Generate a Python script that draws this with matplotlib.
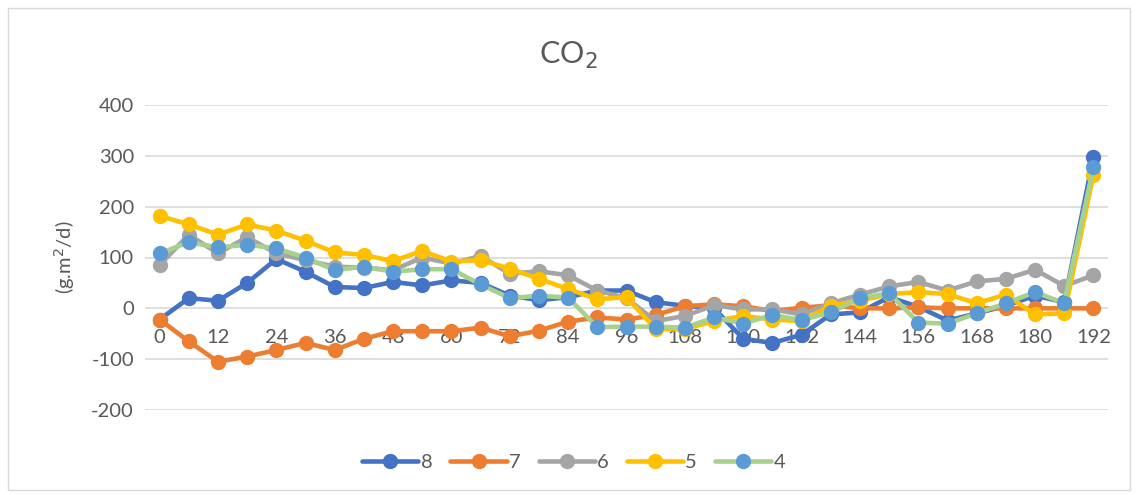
import matplotlib.pyplot as plt
from matplotlib.patches import Rectangle
from matplotlib.lines import Line2D

hours = list(range(0, 193, 6))

s8 = [-22, 20, 15, 50, 97, 72, 42, 40, 52, 45, 55, 50, 25, 16, 22, 35, 35, 12, 5, 0,
      -60, -68, -52, -12, -8, 22, 3, -24, -10, 5, 25, 12, 297]
s7 = [-22, -65, -105, -95, -82, -68, -82, -60, -45, -45, -45, -38, -55, -44, -26, -18, -22, -13, 4, 8,
      4, -5, 1, 6, 0, 0, 2, 0, 0, 0, 0, 0, 0]
s6 = [85, 145, 108, 140, 108, 95, 82, 80, 75, 100, 88, 103, 68, 73, 65, 35, 20, -25, -15, 6,
      -2, -2, -12, 10, 27, 43, 52, 35, 53, 58, 76, 44, 65]
s5 = [182, 165, 145, 165, 153, 133, 110, 105, 93, 113, 92, 95, 78, 58, 38, 18, 22, -41, -41, -25,
      -15, -22, -25, 5, 15, 28, 32, 28, 10, 27, -12, -10, 262]
s4 = [108, 130, 120, 125, 118, 100, 75, 82, 72, 77, 77, 47, 20, 25, 21, -37, -36, -36, -38, -18,
      -30, -13, -23, -8, 20, 30, -28, -30, -10, 10, 32, 10, 278]

series = [("8", s8, "#4472C4", "#4472C4"),
          ("7", s7, "#ED7D31", "#ED7D31"),
          ("6", s6, "#A5A5A5", "#A5A5A5"),
          ("5", s5, "#FFC000", "#FFC000"),
          ("4", s4, "#A9D18E", "#5B9BD5")]

plt.rcParams['font.family'] = ['Lato', 'DejaVu Sans']
plt.rcParams['axes.unicode_minus'] = False
txt = "#595959"

fig = plt.figure(figsize=(11.36, 4.95), dpi=100)
fig.patches.append(Rectangle((8 / 1136, 5 / 495), 1122 / 1136, 482 / 495, transform=fig.transFigure,
                             fill=False, edgecolor="#D9D9D9", linewidth=1))
ax = fig.add_axes([145 / 1136, 1 - 410 / 495, 963 / 1136, 305 / 495])

handles = []
for name, vals, lc, mc in series:
    ax.plot(hours, vals, color=lc, linewidth=3.3, marker="o", markersize=10,
            markerfacecolor=mc, markeredgecolor=mc, solid_capstyle="round", zorder=3)
    handles.append(Line2D([], [], color=lc, linewidth=3.3, marker="o", markersize=10,
                          markerfacecolor=mc, markeredgecolor=mc, solid_capstyle="round"))

ax.set_xlim(-3, 195)
ax.set_ylim(-200, 400)
ax.set_yticks(range(-200, 401, 100))
ax.set_xticks(range(0, 193, 12))
ax.grid(axis="y", color="#D9D9D9", linewidth=1.2)
ax.set_axisbelow(True)
for side in ["top", "right", "left"]:
    ax.spines[side].set_visible(False)
ax.spines["bottom"].set_position(("data", 0))
ax.spines["bottom"].set_visible(False)
ax.tick_params(axis="both", length=0, labelsize=14.5, colors=txt)
ax.tick_params(axis="x", pad=15)
ax.tick_params(axis="y", pad=8)

ax.set_ylabel("(g.m$^2$/d)", fontsize=14.5, color=txt, labelpad=10)
fig.text(0.5, 1 - 55 / 495, "CO$_2$", ha="center", va="center", fontsize=22, color=txt)

fig.legend(handles, [s[0] for s in series], loc="center", bbox_to_anchor=(0.505, 1 - 462 / 495),
           ncol=5, frameon=False, fontsize=14.5, labelcolor=txt, handlelength=2.8,
           handletextpad=0.1, columnspacing=0.9)

fig.savefig("out.png", dpi=100)
